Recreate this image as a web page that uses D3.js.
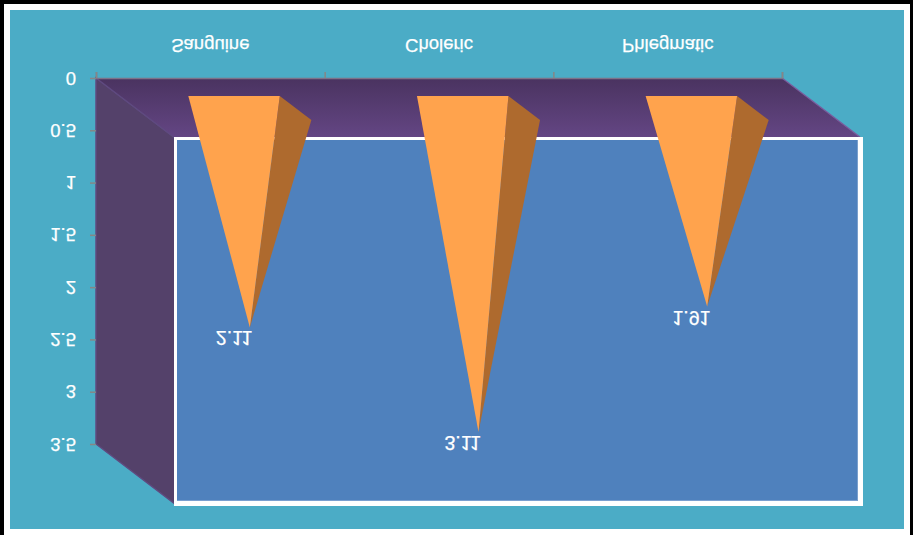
<!DOCTYPE html>
<html>
<head>
<meta charset="utf-8">
<script src="https://cdn.jsdelivr.net/npm/d3@7"></script>
<style>
	html, body { margin: 0; padding: 0; background: #000; overflow: hidden; }
	svg { display: block; }
	text { font-family: "Liberation Sans", Arial, sans-serif; font-size: 18.5px; fill: #fff; stroke: #fff; stroke-width: 0.25px; }
	.value-label { font-size: 19.5px; }
</style>
</head>
<body>
<svg id="chart" width="913" height="535"></svg>
<script>
const categories = ["Sanguine", "Choleric", "Phlegmatic"];
const values = [2.11, 3.11, 1.91];
const value_labels = ["2.11", "3.11", "1.91"];
const y_ticks = [0, 0.5, 1, 1.5, 2, 2.5, 3, 3.5];
const y_tick_labels = ["0", "0.5", "1", "1.5", "2", "2.5", "3", "3.5"];

const svg = d3.select("#chart");

// frame
svg.append("rect").attr("x", 4).attr("y", 4).attr("width", 906).attr("height", 531).attr("fill", "#fff");
svg.append("rect").attr("x", 10).attr("y", 10).attr("width", 894).attr("height", 519).attr("fill", "#4bacc6");

// back plane, the 3d box is pushed out by depth_x/depth_y
const left = 96, right = 782, top_y = 78, bottom_y = 444;
const depth_x = 79, depth_y = 60;

const x = d3.scaleBand().domain(categories).range([left, right]);
const x_edges = d3.scaleLinear().domain([0, categories.length]).range([left, right]);
const y = d3.scaleLinear().domain([0, 3.5]).range([top_y, bottom_y]);

const defs = svg.append("defs");
const band_gradient = defs.append("linearGradient")
	.attr("id", "band-gradient")
	.attr("x1", "0%").attr("y1", "0%")
	.attr("x2", "0%").attr("y2", "100%");
band_gradient.append("stop").attr("offset", "0%").attr("stop-color", "#4a3360");
band_gradient.append("stop").attr("offset", "100%").attr("stop-color", "#644684");

const line = d3.line();

// blue wall
svg.append("rect")
	.attr("x", left + depth_x)
	.attr("y", top_y + depth_y)
	.attr("width", right - left)
	.attr("height", bottom_y - top_y)
	.attr("fill", "#4f81bd");

// left wall
svg.append("path")
	.attr("d", line([
		[left, top_y], [left + depth_x, top_y + depth_y],
		[left + depth_x, bottom_y + depth_y], [left, bottom_y]
	]) + "Z")
	.attr("fill", "#54416a")
	.attr("stroke", "#5f4a80")
	.attr("stroke-width", 1.5);

// top band
svg.append("path")
	.attr("d", line([
		[left, top_y], [right, top_y],
		[right + depth_x, top_y + depth_y], [left + depth_x, top_y + depth_y]
	]) + "Z")
	.attr("fill", "url(#band-gradient)");

svg.append("path")
	.attr("d", line([[right, top_y], [right + depth_x - 1, top_y + depth_y - 1]]))
	.attr("stroke", "#7a5c9e")
	.attr("stroke-width", 1.2);

svg.append("path")
	.attr("d", line([[left, top_y], [left + depth_x, top_y + depth_y]]))
	.attr("stroke", "#5f4a80")
	.attr("stroke-width", 1.2);

// white outline of the blue wall, x1 y1 x2 y2 width colour
const wall_l = left + depth_x, wall_r = right + depth_x, wall_t = top_y + depth_y, wall_b = bottom_y + depth_y;
const outline = [
	[wall_r - 3, wall_t, wall_r - 3, wall_b - 3, 1, "#a9bfdd"],
	[wall_l, wall_b - 3.5, wall_r - 3, wall_b - 3.5, 1, "#7a9fd0"],
	[wall_l - 1, wall_t + 0.5, wall_r + 2, wall_t + 0.5, 3, "#fff"],
	[wall_l - 1, wall_b - 0.5, wall_r + 2, wall_b - 0.5, 5, "#fff"],
	[wall_l + 0.5, wall_t, wall_l + 0.5, wall_b, 3, "#fff"],
	[wall_r - 0.5, wall_t, wall_r - 0.5, wall_b + 2, 5, "#fff"]
];
svg.selectAll(".outline")
	.data(outline)
	.enter()
	.append("line")
	.classed("outline", true)
	.attr("x1", d => d[0]).attr("y1", d => d[1])
	.attr("x2", d => d[2]).attr("y2", d => d[3])
	.attr("stroke-width", d => d[4])
	.attr("stroke", d => d[5]);

// cones, wide end at 0 and the tip at the value in the middle of the depth
const half_width = x.bandwidth() * 0.2;
const cone_near = 0.3, cone_far = 0.7, cone_mid = 0.48;

const cones = svg.selectAll(".cone")
	.data(categories)
	.enter()
	.append("g")
	.classed("cone", true);

function coneCenter(i) {
	return x(categories[i]) + x.bandwidth() / 2;
}

cones.append("path")
	.attr("d", (d, i) => line([
		[coneCenter(i) + half_width + cone_near * depth_x, y(0) + cone_near * depth_y],
		[coneCenter(i) + half_width + cone_far * depth_x, y(0) + cone_far * depth_y],
		[coneCenter(i) + depth_x / 2, y(values[i]) + cone_mid * depth_y]
	]) + "Z")
	.attr("fill", "#ae6a2e");

cones.append("path")
	.attr("d", (d, i) => line([
		[coneCenter(i) - half_width + cone_near * depth_x, y(0) + cone_near * depth_y],
		[coneCenter(i) + half_width + cone_near * depth_x, y(0) + cone_near * depth_y],
		[coneCenter(i) + depth_x / 2, y(values[i]) + cone_mid * depth_y]
	]) + "Z")
	.attr("fill", "#ffa34d");

// axes, labels are mirrored vertically like in the original
const y_axis = d3.axisLeft(y)
	.tickValues(y_ticks)
	.tickFormat((d, i) => y_tick_labels[i])
	.tickSize(6)
	.tickPadding(0);

const y_g = svg.append("g")
	.attr("transform", "translate(" + left + ",0)")
	.call(y_axis);

y_g.select(".domain").remove();
y_g.selectAll(".tick line").attr("stroke", "#868686").attr("stroke-width", 1.5);
y_g.selectAll(".tick text")
	.attr("x", 0).attr("y", 0).attr("dy", 0)
	.attr("text-anchor", "end")
	.attr("transform", "translate(-20,-7) scale(1,-1)");

const x_edge_axis = d3.axisTop(x_edges)
	.tickValues(d3.range(categories.length + 1))
	.tickFormat("")
	.tickSize(6);

const x_edge_g = svg.append("g")
	.attr("transform", "translate(0," + top_y + ")")
	.call(x_edge_axis);

x_edge_g.select(".domain").attr("stroke", "#7d7288").attr("stroke-width", 1.5);
x_edge_g.selectAll(".tick line").attr("stroke", "#868686").attr("stroke-width", 1.5);

const x_axis = d3.axisTop(x).tickSize(0);
const x_g = svg.append("g")
	.attr("transform", "translate(0," + top_y + ")")
	.call(x_axis);

x_g.select(".domain").remove();
x_g.selectAll(".tick text")
	.attr("x", 0).attr("y", 0).attr("dy", 0)
	.attr("text-anchor", "middle")
	.attr("transform", "translate(0,-39) scale(1,-1)");

// value labels below the tips
cones.append("text")
	.classed("value-label", true)
	.attr("text-anchor", "middle")
	.attr("transform", (d, i) =>
		"translate(" + (coneCenter(i) + cone_near * depth_x) + "," + (y(values[i]) + cone_mid * depth_y + 4) + ") scale(1,-1)")
	.text((d, i) => value_labels[i]);
</script>
</body>
</html>
